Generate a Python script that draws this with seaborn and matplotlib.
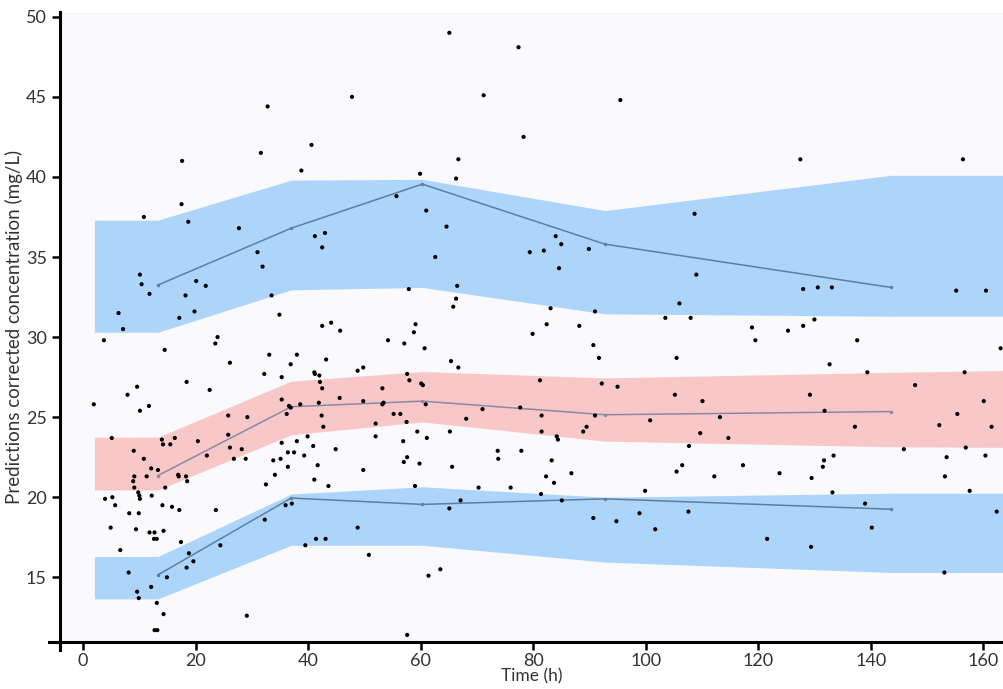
import numpy as np
import pandas as pd
import matplotlib
matplotlib.use("Agg")
import matplotlib.pyplot as plt
import seaborn as sns

# observed (prediction-corrected) concentrations
obs_time = [
    17.6, 17.5, 10.8, 18.7, 27.7, 10.1, 10.4, 11.8, 20.1, 21.8, 18.2, 6.3, 19.8, 17.1, 7.1, 23.9, 3.7,
    31.0, 31.9, 33.5, 34.9, 32.8, 31.6, 40.6, 38.8, 41.2, 43.0, 42.5, 42.5, 44.1, 45.7,
    59.9, 55.7, 61.0, 57.9, 59.1, 58.8, 54.2, 65.1, 77.4, 47.8, 71.2, 95.5, 78.3, 66.7, 66.3,
    64.6, 62.6, 84.0, 85.0, 81.9, 79.4, 89.9, 84.6, 66.5, 66.3, 65.8, 83.1, 91.0, 103.5,
    57.1, 60.7, 82.4, 79.9, 88.2, 90.7, 127.5, 156.4, 108.7, 109.0, 106.0, 128.0, 130.6, 133.1,
    155.2, 160.5, 108.0, 130.0, 118.9, 125.3, 128.0, 119.5, 137.6, 163.1,
    14.5, 23.5, 26.1, 9.6, 7.9, 1.9, 11.7, 10.1, 18.4, 22.5, 25.8, 5.1, 14.0, 16.3, 14.2, 15.5,
    20.4, 25.8, 26.1, 26.8, 22.0, 9.0, 10.8, 12.1, 13.3, 9.1, 11.3, 8.9, 9.1, 9.8, 10.0, 16.9,
    17.0, 18.3, 18.5, 14.6, 3.9, 5.2, 12.2, 10.1, 5.7, 8.2, 9.9, 14.1, 15.8, 17.1, 23.6, 4.9,
    9.4, 11.8, 12.7, 14.3, 12.6, 13.1, 17.4, 6.6, 24.4, 18.8, 19.6, 18.4, 8.1, 14.9, 12.1, 9.6,
    9.9, 13.1, 14.3, 12.7, 13.2,
    33.1, 38.0, 36.9, 32.2, 35.3, 43.2, 41.1, 41.2, 42.0, 42.1, 42.5, 48.8, 49.8, 57.6, 58.0,
    60.1, 60.4, 35.3, 36.6, 36.9, 38.6, 41.9, 45.6, 49.8, 53.2, 53.4, 53.2, 60.9, 29.2, 36.2,
    42.4, 42.7, 55.2, 56.4, 52.0, 57.5, 28.2, 28.9, 35.3, 38.0, 39.9, 40.9, 44.9, 52.0, 56.9,
    59.4, 61.1, 36.4, 37.5, 39.3, 33.8, 35.1, 36.4, 41.7, 34.1, 32.5, 41.1, 43.6, 49.8, 57.6,
    57.0, 59.8, 59.0, 37.1, 36.0, 32.3, 39.5, 41.4, 43.1, 48.8, 50.8, 29.1, 57.6, 61.4,
    91.7, 65.4, 66.7, 65.2, 65.6, 71.0, 68.1, 77.7, 81.2, 81.5, 81.5, 84.2, 84.4, 73.7, 73.8,
    77.9, 83.3, 82.3, 83.7, 86.8, 70.3, 76.0, 81.4, 67.1, 65.1, 85.1, 63.5, 88.9, 89.5, 91.0,
    92.2, 95.0, 100.8, 99.9, 90.7, 94.8, 98.9, 101.7,
    105.5, 132.7, 139.4, 156.7, 147.9, 105.2, 129.2, 110.1, 160.1, 131.8, 113.2, 155.4, 152.2,
    161.5, 137.2, 109.7, 114.7, 107.7, 145.9, 156.9, 133.4, 131.7, 131.5, 153.5, 160.4, 106.5,
    117.3, 105.5, 112.2, 123.8, 129.5, 153.2, 133.2, 157.6, 139.0, 107.6, 162.4, 140.2, 121.6,
    129.4, 153.1,
]
obs_conc = [
    41.0, 38.3, 37.5, 37.2, 36.8, 33.9, 33.3, 32.7, 33.5, 33.2, 32.6, 31.5, 31.6, 31.2, 30.5, 30.0, 29.8,
    35.3, 34.4, 32.6, 31.4, 44.4, 41.5, 42.0, 40.4, 36.3, 36.5, 35.6, 30.7, 30.9, 30.4,
    40.2, 38.8, 37.9, 33.0, 30.8, 30.3, 29.8, 49.0, 48.1, 45.0, 45.1, 44.8, 42.5, 41.1, 39.9,
    36.9, 35.0, 36.3, 35.8, 35.4, 35.3, 35.5, 34.3, 33.2, 32.4, 31.9, 31.8, 31.6, 31.2,
    29.6, 29.3, 30.8, 30.2, 30.7, 29.5, 41.1, 41.1, 37.7, 33.9, 32.1, 33.0, 33.1, 33.1,
    32.9, 32.9, 31.2, 31.1, 30.6, 30.4, 30.7, 29.8, 29.8, 29.3,
    29.2, 29.6, 28.4, 26.9, 26.4, 25.8, 25.7, 25.4, 27.2, 26.7, 25.1, 23.7, 23.6, 23.7, 23.3, 23.3,
    23.5, 23.9, 23.1, 22.4, 22.6, 22.9, 22.4, 21.8, 21.7, 21.3, 21.3, 21.0, 20.6, 20.3, 20.1, 21.4,
    21.3, 21.3, 21.0, 20.6, 19.9, 20.0, 20.1, 19.9, 19.5, 19.0, 19.0, 19.5, 19.4, 19.2, 19.2, 18.1,
    18.0, 17.8, 17.8, 17.9, 17.4, 17.4, 17.2, 16.7, 17.0, 16.5, 16.0, 15.6, 15.3, 15.0, 14.4, 14.1,
    13.7, 13.4, 12.7, 11.7, 11.7,
    28.9, 28.9, 28.3, 27.7, 27.5, 28.6, 27.8, 27.7, 27.6, 27.2, 26.8, 27.9, 28.1, 27.7, 27.3,
    27.1, 27.0, 26.1, 25.7, 25.6, 25.8, 25.9, 26.2, 26.0, 26.8, 25.9, 25.8, 25.8, 25.0, 25.2,
    25.1, 24.4, 25.2, 25.2, 24.6, 24.7, 23.0, 22.4, 23.4, 23.5, 23.8, 23.2, 23.0, 23.8, 23.5,
    24.1, 23.7, 22.8, 22.8, 22.6, 22.3, 22.4, 21.9, 22.0, 21.4, 20.8, 21.1, 20.7, 21.7, 22.5,
    22.2, 22.1, 20.7, 19.6, 19.5, 18.6, 17.0, 17.4, 17.4, 18.1, 16.4, 12.6, 11.4, 15.1,
    28.7, 28.5, 28.1, 24.1, 21.9, 25.5, 24.9, 25.6, 27.3, 25.1, 24.1, 23.8, 23.6, 22.9, 22.4,
    22.9, 22.3, 21.3, 20.9, 21.5, 20.6, 20.6, 20.2, 19.8, 19.3, 19.8, 15.5, 24.1, 24.4, 25.1,
    27.1, 26.9, 24.8, 20.4, 18.7, 18.5, 19.0, 18.0,
    28.7, 28.3, 27.8, 27.8, 27.0, 26.4, 26.4, 26.0, 26.0, 25.4, 25.0, 25.2, 24.5,
    24.4, 24.4, 24.0, 23.7, 23.2, 23.0, 23.1, 22.6, 22.3, 21.9, 22.5, 22.6, 22.0,
    22.0, 21.6, 21.3, 21.5, 21.2, 21.3, 20.3, 20.4, 19.6, 19.1, 19.1, 18.1, 17.4,
    16.9, 15.3,
]

# simulated confidence bands for 5th / 50th / 95th percentiles
band_time = [2.0, 13.3, 37.0, 60.3, 92.8, 143.6, 170.0]
p95_lo = [30.3, 30.3, 32.95, 33.1, 31.45, 31.3, 31.3]
p95_hi = [37.3, 37.3, 39.8, 39.85, 37.9, 40.1, 40.1]
p50_lo = [20.45, 20.45, 23.9, 24.7, 23.5, 23.15, 23.1]
p50_hi = [23.75, 23.75, 27.25, 27.85, 27.45, 27.8, 27.95]
p05_lo = [13.65, 13.65, 17.0, 17.0, 15.95, 15.3, 15.3]
p05_hi = [16.3, 16.3, 20.2, 20.65, 20.0, 20.25, 20.25]

# observed percentiles per bin
bin_time = [13.3, 37.0, 60.3, 92.8, 143.6]
obs_p95 = [33.25, 36.8, 39.55, 35.8, 33.1]
obs_p50 = [21.35, 25.65, 26.0, 25.15, 25.35]
obs_p05 = [15.15, 19.95, 19.55, 19.9, 19.25]

sns.set_style("ticks")
plt.rcParams['font.family'] = ['Lato', 'DejaVu Sans']

fig = plt.figure(figsize=(10.04, 6.89), dpi=100)
ax = fig.add_axes([0.0598, 0.068, 0.9402, 0.9146])
ax.set_facecolor('#fafafc')

blue = '#add5f9'
red = '#f8c8c8'
ax.fill_between(band_time, p95_lo, p95_hi, color=blue, lw=0, zorder=1)
ax.fill_between(band_time, p50_lo, p50_hi, color=red, lw=0, zorder=1)
ax.fill_between(band_time, p05_lo, p05_hi, color=blue, lw=0, zorder=1)

lines = pd.DataFrame({'time': bin_time, 'p95': obs_p95, 'p50': obs_p50, 'p05': obs_p05})
for col, c in [('p95', '#5f7f9f'), ('p50', '#8a8aa6'), ('p05', '#5f7f9f')]:
    sns.lineplot(data=lines, x='time', y=col, ax=ax, color=c, lw=1.1,
                 marker='o', markersize=2.5, markeredgewidth=0, zorder=2)

obs = pd.DataFrame({'time': obs_time, 'conc': obs_conc})
sns.scatterplot(data=obs, x='time', y='conc', ax=ax, color='black', s=9,
                edgecolor='none', zorder=3)

ax.set_xlim(-4.1, 163.7)
ax.set_ylim(10.95, 50.3)
ax.set_xticks(range(0, 161, 20))
ax.set_yticks(range(15, 51, 5))
ax.tick_params(axis='both', labelsize=13, width=1.8, length=6, color='black',
               labelcolor='#333333')
ax.tick_params(axis='x', pad=2)
ax.set_xlabel('Time (h)', fontsize=12.5, labelpad=-1, color='#333333')
ax.set_ylabel('Predictions corrected concentration (mg/L)', fontsize=13.5,
              labelpad=2, color='#333333')

sns.despine(ax=ax)
for s in ['left', 'bottom']:
    ax.spines[s].set_linewidth(2.2)
    ax.spines[s].set_color('black')
ax.spines['left'].set_bounds(10.45, 50.3)
ax.spines['bottom'].set_bounds(-6.0, 163.7)

fig.savefig('out.png', dpi=100)
